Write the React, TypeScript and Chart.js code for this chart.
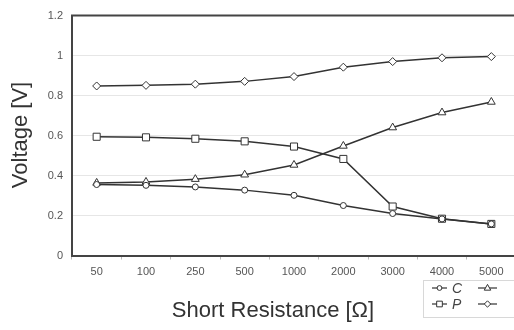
import React, { useEffect, useRef } from "react";
import { Chart, registerables } from "chart.js";

Chart.register(...registerables);

const CATEGORIES = ["50", "100", "250", "500", "1000", "2000", "3000", "4000", "5000"];
const SERIES_LABELS = ["C", "", "P", ""];
const SERIES_C = [0.355, 0.351, 0.343, 0.327, 0.301, 0.25, 0.21, 0.183, 0.158];
const SERIES_T = [0.363, 0.368, 0.382, 0.404, 0.453, 0.548, 0.64, 0.715, 0.768];
const SERIES_P = [0.594, 0.591, 0.584, 0.571, 0.545, 0.483, 0.245, 0.184, 0.158];
const SERIES_D = [0.848, 0.851, 0.857, 0.871, 0.895, 0.942, 0.97, 0.989, 0.995];
const POINT_STYLES = ["circle", "triangle", "rect", "rectRot"];
const POINT_RADII = [3, 4.5, 5, 4];
const Y_TITLE = "Voltage [V]";
const X_TITLE = "Short Resistance [Ω]";

const LINE = "#333333";
const FONT = "'Liberation Sans', Arial, sans-serif";

const decorPlugin = {
  id: "decor",
  afterDraw(chart: any) {
    const ctx = chart.ctx;
    const a = chart.chartArea;
    ctx.save();
    // top border
    ctx.strokeStyle = "#444";
    ctx.lineWidth = 2;
    ctx.beginPath();
    ctx.moveTo(a.left - 1, a.top);
    ctx.lineTo(a.right, a.top);
    ctx.stroke();
    // titles
    ctx.fillStyle = "#333";
    ctx.font = "22px " + FONT;
    ctx.textAlign = "center";
    ctx.textBaseline = "middle";
    ctx.fillText(X_TITLE, 273, 311);
    ctx.save();
    ctx.translate(21, 135);
    ctx.rotate(-Math.PI / 2);
    ctx.fillText(Y_TITLE, 0, 0);
    ctx.restore();
    // legend
    const bx = 423, by = 280, bw = 130, bh = 37;
    ctx.fillStyle = "#fff";
    ctx.fillRect(bx, by, bw, bh);
    ctx.strokeStyle = "#d8d8d8";
    ctx.lineWidth = 1;
    ctx.strokeRect(bx + 0.5, by + 0.5, bw, bh);
    const ds = chart.data.datasets;
    const colX = [432, 478];
    const rowY = [288, 304];
    ds.forEach((d: any, i: number) => {
      const col = i % 2;
      const row = Math.floor(i / 2);
      const x0 = colX[col];
      const y = rowY[row];
      const len = col === 0 ? 15 : 19;
      ctx.strokeStyle = LINE;
      ctx.lineWidth = 1.2;
      ctx.beginPath();
      ctx.moveTo(x0, y);
      ctx.lineTo(x0 + len, y);
      ctx.stroke();
      ctx.fillStyle = "#fff";
      ctx.strokeStyle = LINE;
      ctx.lineWidth = 1;
      const r = d.pointRadius * 0.8;
      (Chart as any).helpers
        ? null
        : null;
      drawMarker(ctx, d.pointStyle, r, x0 + len / 2, y);
      if (d.label) {
        ctx.fillStyle = "#444";
        ctx.font = "italic 14px " + FONT;
        ctx.textAlign = "left";
        ctx.textBaseline = "middle";
        ctx.fillText(d.label, x0 + len + 5, y + 1);
      }
    });
    ctx.restore();
  },
};

function drawMarker(ctx: CanvasRenderingContext2D, style: string, r: number, x: number, y: number) {
  ctx.beginPath();
  if (style === "circle") {
    ctx.arc(x, y, r, 0, Math.PI * 2);
  } else if (style === "rect") {
    const s = Math.SQRT1_2 * r;
    ctx.rect(x - s, y - s, 2 * s, 2 * s);
  } else if (style === "rectRot") {
    ctx.moveTo(x, y - r);
    ctx.lineTo(x + r, y);
    ctx.lineTo(x, y + r);
    ctx.lineTo(x - r, y);
    ctx.closePath();
  } else if (style === "triangle") {
    ctx.moveTo(x, y - r);
    ctx.lineTo(x + r * 0.9, y + r * 0.6);
    ctx.lineTo(x - r * 0.9, y + r * 0.6);
    ctx.closePath();
  }
  ctx.fill();
  ctx.stroke();
}

export default function App() {
  const ref = useRef<HTMLCanvasElement>(null);
  useEffect(() => {
    if (!ref.current) return;
    const series = [SERIES_C, SERIES_T, SERIES_P, SERIES_D];
    const chart = new Chart(ref.current, {
      type: "line",
      data: {
        labels: CATEGORIES,
        datasets: series.map((s, i) => ({
          label: SERIES_LABELS[i],
          data: s,
          borderColor: LINE,
          borderWidth: 1.5,
          pointStyle: POINT_STYLES[i] as any,
          pointRadius: POINT_RADII[i],
          pointBackgroundColor: "#ffffff",
          pointBorderColor: LINE,
          pointBorderWidth: 1,
          tension: 0,
          fill: false,
        })),
      },
      options: {
        animation: false,
        responsive: false,
        maintainAspectRatio: false,
        layout: { padding: { left: 0, right: 24, top: 11.5, bottom: 0 } },
        plugins: { legend: { display: false }, tooltip: { enabled: false } },
        scales: {
          x: {
            offset: true,
            afterFit: (s: any) => {
              s.height = 74.5;
            },
            grid: {
              display: true,
              drawOnChartArea: false,
              offset: true,
              tickLength: 4,
              color: "#bbb",
            },
            border: { color: "#444", width: 2 },
            ticks: {
              color: "#555",
              font: { family: FONT, size: 11 },
              padding: 6,
              maxRotation: 0,
            },
          },
          y: {
            min: 0,
            max: 1.2,
            afterFit: (s: any) => {
              s.width = 72;
            },
            grid: { color: "#e6e6e6", drawTicks: false, lineWidth: 1 },
            border: { color: "#444", width: 2 },
            ticks: {
              stepSize: 0.2,
              color: "#555",
              font: { family: FONT, size: 11 },
              padding: 9,
              callback: (v: any) => String(Math.round(Number(v) * 10) / 10),
            },
          },
        },
      },
      plugins: [decorPlugin],
    });
    return () => chart.destroy();
  }, []);
  return (
    <div
      style={{
        position: "fixed",
        left: 0,
        top: 0,
        width: 514,
        height: 330,
        overflow: "hidden",
        background: "#fff",
      }}
    >
      <canvas ref={ref} width={540} height={330} style={{ display: "block" }} />
    </div>
  );
}
